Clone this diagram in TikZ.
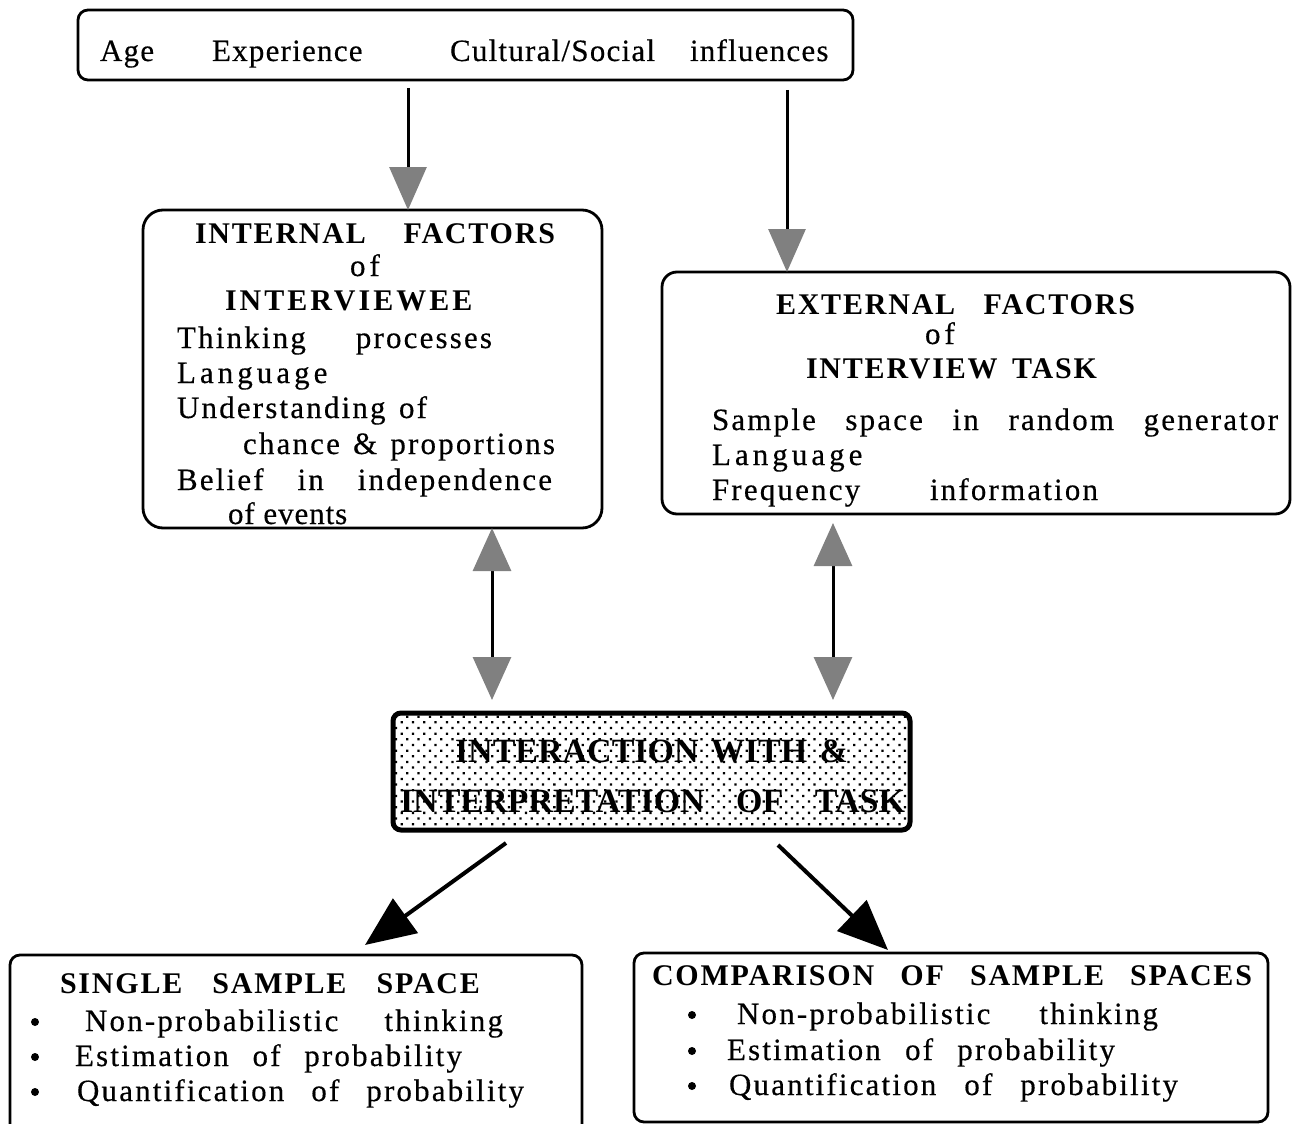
\documentclass[tikz,border=0pt]{standalone}
\usepackage{fontspec}
\setmainfont{Liberation Serif}[Ligatures=CommonOff]
\newfontfamily\bodyF{Liberation Serif}[LetterSpace=7,Ligatures=CommonOff,FakeBold=0.4]
\newfontfamily\topF{Liberation Serif}[LetterSpace=4,Ligatures=CommonOff,FakeBold=0.4]
\newfontfamily\wideF{Liberation Serif}[LetterSpace=13,Ligatures=CommonOff,FakeBold=0.4]
\newfontfamily\ltF{Liberation Serif}[LetterSpace=3,Ligatures=CommonOff,FakeBold=0.4]
\newfontfamily\ttlF{Liberation Serif}[LetterSpace=6,Ligatures=CommonOff]
\newfontfamily\ttlwF{Liberation Serif}[LetterSpace=10,Ligatures=CommonOff]
\newfontfamily\ttlnF{Liberation Serif}[LetterSpace=0,Ligatures=CommonOff]
\usetikzlibrary{arrows.meta,patterns.meta,calc}
\newcommand\sline[2]{\makebox[#1pt][s]{#2}}
\colorlet{headgray}{black!50}
\tikzset{
  box/.style={draw, line width=2.8pt, rounded corners=#1, inner sep=0pt, outer sep=0pt},
  box/.default=10pt,
  txtbase/.style={anchor=base west, inner sep=0pt, outer sep=0pt},
  ttxt/.style={txtbase, font=\topF\fontsize{31}{36}\selectfont},
  btxt/.style={txtbase, font=\bodyF\fontsize{31}{36}\selectfont},
  ltxt/.style={txtbase, font=\ltF\fontsize{31}{36}\selectfont},
  wtxt/.style={txtbase, font=\wideF\fontsize{31}{36}\selectfont},
  htxt/.style={txtbase, font=\ttlF\bfseries\fontsize{30}{36}\selectfont},
  hwtxt/.style={txtbase, font=\ttlwF\bfseries\fontsize{30}{36}\selectfont},
  itxt/.style={txtbase, font=\ttlnF\bfseries\fontsize{34}{40}\selectfont},
  bul/.style={circle, fill, inner sep=0pt, minimum size=8pt},
  garr/.style={line width=3pt, -{Triangle[length=43pt,width=37pt,color=headgray]}},
  gdarr/.style={line width=3pt, {Triangle[length=43pt,width=38pt,color=headgray]}-{Triangle[length=43pt,width=38pt,color=headgray]}},
  barr/.style={line width=4pt, -{Triangle[length=50pt,width=42pt]}}
}
\begin{document}
\begin{tikzpicture}[x=1pt,y=-1pt]
\useasboundingbox (0,0) rectangle (1294,1124);
\clip (0,0) rectangle (1294,1124);
% boxes
\node[box=10pt, minimum width=775pt, minimum height=70pt] (top) at (465.5,45) {};
\node[box=20pt, minimum width=459pt, minimum height=318pt] (int) at (372.5,369) {};
\node[box=15pt, minimum width=628pt, minimum height=242pt] (ext) at (976,393) {};
\node[draw, line width=5pt, rounded corners=8pt, inner sep=0pt, outer sep=0pt,
      minimum width=517pt, minimum height=117pt, fill=white,
      postaction={pattern={Dots[distance=8pt,radius=1.6pt,angle=45]}, pattern color=black}] (inter) at (651.5,771.5) {};
\node[box=10pt, minimum width=572pt, minimum height=185pt] (single) at (296,1047.5) {};
\node[box=10pt, minimum width=634pt, minimum height=169pt] (comp) at (951,1037.5) {};
% top words
\node[ttxt] (w1) at (100,61) {Age};
\node[ttxt] (w2) at (212,61) {Experience};
\node[ttxt] (w3) at (450,61) {Cultural/Social};
\node[ttxt] (w4) at (690,61) {influences};
% internal
\node[htxt] (i1) at (195,243) {\sline{360}{INTERNAL FACTORS}};
\node[wtxt] (i2) at (350,276) {of};
\node[hwtxt] (i3) at (225,310) {INTERVIEWEE};
\node[btxt] (i4) at (177,348) {\sline{315}{Thinking processes}};
\node[wtxt] (i5) at (177,383) {Language};
\node[btxt] (i6) at (177,418) {\sline{250}{Understanding of}};
\node[btxt] (i7) at (243,454) {\sline{312}{chance \& proportions}};
\node[btxt] (i8) at (177,490) {\sline{375}{Belief in independence}};
\node[ltxt] (i9) at (228,524) {of events};
% external
\node[htxt] (e1) at (776,314) {\sline{359}{EXTERNAL FACTORS}};
\node[wtxt] (e2) at (925,344) {of};
\node[htxt] (e3) at (806,378) {\sline{291}{INTERVIEW TASK}};
\node[btxt] (e4) at (712,430) {\sline{566}{Sample space in random generator}};
\node[wtxt] (e5) at (712,465) {Language};
\node[btxt] (e6) at (712,500) {\sline{386}{Frequency information}};
% interaction
\node[itxt] (x1) at (455,762) {\sline{393}{INTERACTION WITH \&}};
\node[itxt] (x2) at (400,812) {\sline{505}{INTERPRETATION OF TASK}};
% single
\node[htxt] (s1) at (60,993) {\sline{420}{SINGLE SAMPLE SPACE}};
\node[bul] (sb1) at (35,1022) {};
\node[bul] (sb2) at (35,1057) {};
\node[bul] (sb3) at (35,1092) {};
\node[btxt] (s2) at (85,1031) {\sline{418}{Non-probabilistic thinking}};
\node[btxt] (s3) at (75,1066) {\sline{387}{Estimation of probability}};
\node[btxt] (s4) at (77,1101) {\sline{447}{Quantification of probability}};
% comparison
\node[htxt] (c1) at (652,985) {\sline{600}{COMPARISON OF SAMPLE SPACES}};
\node[bul] (cb1) at (692,1015) {};
\node[bul] (cb2) at (692,1051) {};
\node[bul] (cb3) at (692,1086) {};
\node[btxt] (c2) at (737,1024) {\sline{421}{Non-probabilistic thinking}};
\node[btxt] (c3) at (727,1060) {\sline{388}{Estimation of probability}};
\node[btxt] (c4) at (729,1095) {\sline{449}{Quantification of probability}};
% connectors
\coordinate (a1x) at (408,0);
\coordinate (a2x) at (787,0);
\coordinate (d1x) at (492,0);
\coordinate (d2x) at (833,0);
\draw[garr, shorten <=8pt] (top.south -| a1x) -- (int.north -| a1x);
\draw[garr, shorten <=10pt] (top.south -| a2x) -- (ext.north -| a2x);
\draw[gdarr, shorten >=13pt] (int.south -| d1x) -- (inter.north -| d1x);
\draw[gdarr, shorten <=9pt, shorten >=13pt] (ext.south -| d2x) -- (inter.north -| d2x);
\draw[barr] ($(inter.south west)+(113,13)$) -- ($(single.north west)+(355,-10)$);
\draw[barr] ($(inter.south east)+(-132,15)$) -- ($(comp.north west)+(254,-3)$);
\end{tikzpicture}
\end{document}
